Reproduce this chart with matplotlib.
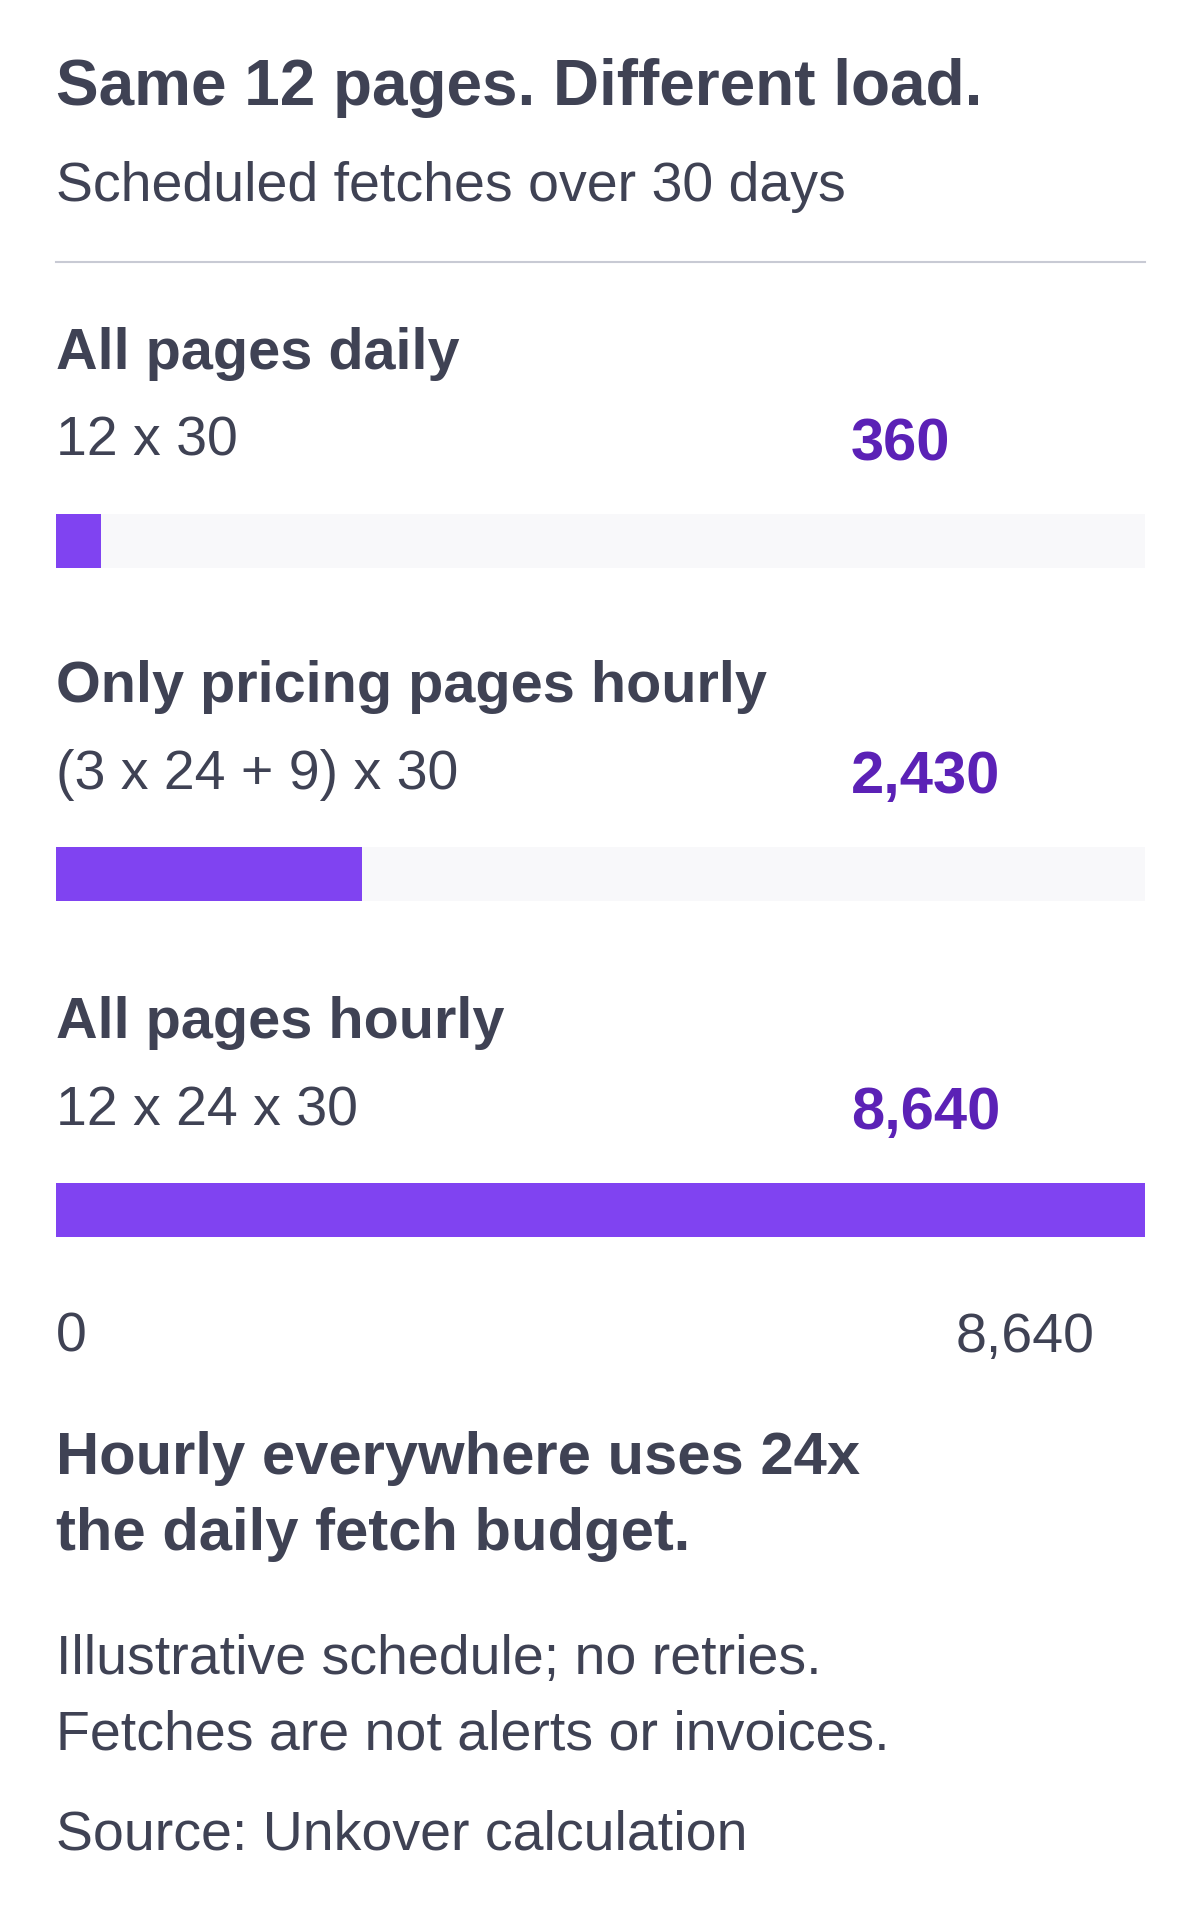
import matplotlib.pyplot as plt

plt.rcParams["font.family"] = ["Liberation Sans", "DejaVu Sans"]

W, H = 1200, 1920

labels = ["All pages daily", "Only pricing pages hourly", "All pages hourly"]
formulas = ["12 x 30", "(3 x 24 + 9) x 30", "12 x 24 x 30"]
values = [360, 2430, 8640]
axis_max = 8640

TEXT = "#3f4254"
VALUE = "#5b21b6"
BAR = "#8043f1"
TRACK = "#f8f8fa"


def fy(y):
    return 1 - y / H


def fx(x):
    return x / W


fig = plt.figure(figsize=(W / 100, H / 100), dpi=100)
fig.patch.set_facecolor("white")

fig.text(fx(56), fy(88), "Same 12 pages. Different load.", fontsize=46,
         fontweight="bold", color=TEXT, va="center")
fig.text(fx(56), fy(187), "Scheduled fetches over 30 days", fontsize=40,
         color=TEXT, va="center")
fig.add_artist(plt.Line2D([fx(56), fx(1145)], [fy(262), fy(262)],
                          color="#c8cad4", lw=1.5))

row_top = [354, 687, 1023]
for i, (lab, form, val) in enumerate(zip(labels, formulas, values)):
    y0 = row_top[i]
    fig.text(fx(56), fy(y0), lab, fontsize=41.5, fontweight="bold",
             color=TEXT, va="center")
    fig.text(fx(56), fy(y0 + 88), form, fontsize=40, color=TEXT, va="center")
    fig.text(fx(851), fy(y0 + 91), f"{val:,}", fontsize=43, fontweight="bold",
             color=VALUE, va="center")
    bt = y0 + 160
    ax = fig.add_axes([fx(56), fy(bt + 54), fx(1145) - fx(56), 54 / H])
    ax.barh([0], [axis_max], height=1, color=TRACK)
    ax.barh([0], [val], height=1, color=BAR)
    ax.set_xlim(0, axis_max)
    ax.set_ylim(-0.5, 0.5)
    ax.axis("off")

fig.text(fx(56), fy(1338), "0", fontsize=40, color=TEXT, va="center")
fig.text(fx(1094), fy(1338), f"{axis_max:,}", fontsize=40, color=TEXT,
         va="center", ha="right")

fig.text(fx(56), fy(1458), "Hourly everywhere uses 24x", fontsize=43,
         fontweight="bold", color=TEXT, va="center")
fig.text(fx(56), fy(1534), "the daily fetch budget.", fontsize=43,
         fontweight="bold", color=TEXT, va="center")
fig.text(fx(56), fy(1660), "Illustrative schedule; no retries.", fontsize=40,
         color=TEXT, va="center")
fig.text(fx(56), fy(1736), "Fetches are not alerts or invoices.", fontsize=40,
         color=TEXT, va="center")
fig.text(fx(56), fy(1836), "Source: Unkover calculation", fontsize=40,
         color=TEXT, va="center")

fig.savefig("out.png", dpi=100, facecolor="white")
